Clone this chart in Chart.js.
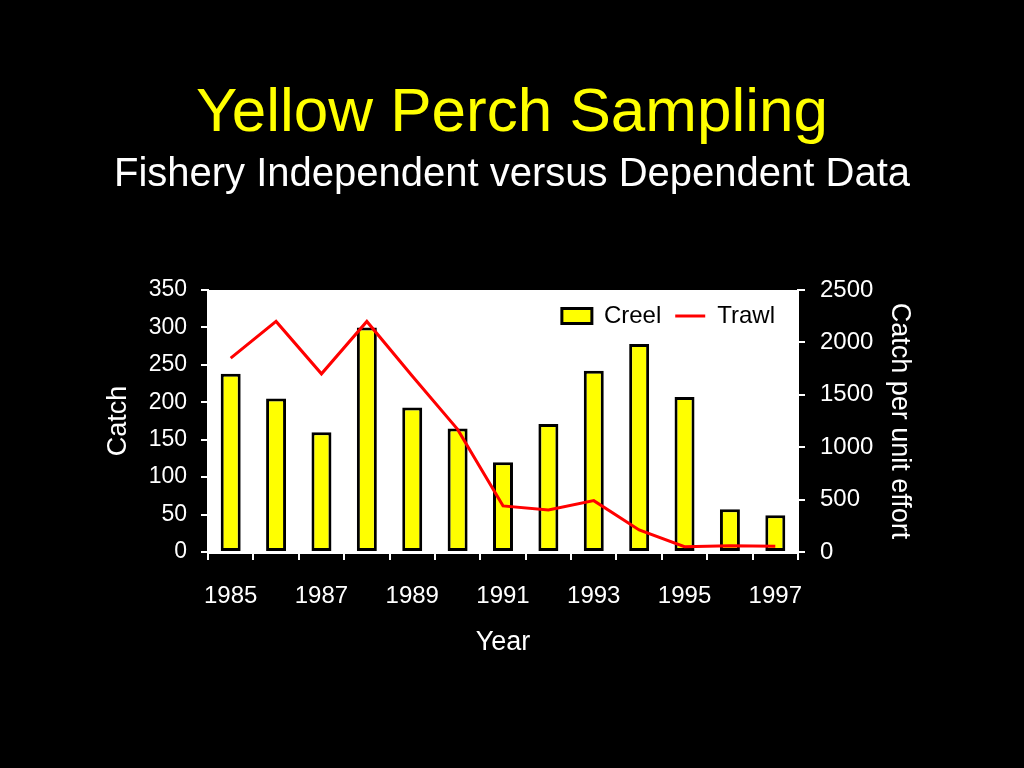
<!DOCTYPE html>
<html>
<head>
<meta charset="utf-8">
<title>Yellow Perch Sampling</title>
<script src="https://cdn.jsdelivr.net/npm/chart.js@4.4.0/dist/chart.umd.min.js"></script>
<style>
  html, body { margin: 0; padding: 0; background: #000; }
  canvas { display: block; }
</style>
</head>
<body>
<canvas id="myChart" width="1024" height="768"></canvas>
<script>
// chart data
var years = ['1985', '1986', '1987', '1988', '1989', '1990', '1991', '1992', '1993', '1994', '1995', '1996', '1997'];
var creelCatch = [238, 205, 160, 300, 193, 165, 120, 171, 242, 278, 207, 57, 49];
var trawlCpue = [1850, 2200, 1700, 2200, 1680, 1170, 440, 400, 490, 210, 50, 60, 55];
var catchTicks = [0, 350, 50];   // min, max, step
var cpueTicks = [0, 2500, 500];

var font = '"Liberation Sans", Arial, Helvetica, sans-serif';

// black page, white plot area
var backgroundPlugin = {
  id: 'bg',
  beforeDraw: function (chart) {
    var ctx = chart.ctx;
    var a = chart.chartArea;
    ctx.save();
    ctx.fillStyle = '#000';
    ctx.fillRect(0, 0, chart.width, chart.height);
    ctx.fillStyle = '#fff';
    ctx.fillRect(a.left, a.top, a.right - a.left, a.bottom - a.top);
    ctx.restore();
  },
  afterLayout: function (chart) {
    // move the legend inside the plot, top right
    var lg = chart.legend, a = chart.chartArea;
    var h = lg.bottom - lg.top;
    lg.left = a.left;
    lg.right = a.right - 9;
    lg.top = a.top;
    lg.bottom = a.top + h;
  }
};

function fixWidth(w) {
  return function (scale) { scale.width = w; };
}

var ctx = document.getElementById('myChart').getContext('2d');
var myChart = new Chart(ctx, {
  type: 'bar',
  data: {
    labels: years,
    datasets: [
      {
        label: 'Creel',
        data: creelCatch,
        backgroundColor: '#ffff00',
        borderColor: '#000',
        borderWidth: 3,
        borderSkipped: false,
        pointStyle: 'rect',
        categoryPercentage: 1,
        barPercentage: 0.44,
        yAxisID: 'y',
        order: 1
      },
      {
        type: 'line',
        label: 'Trawl',
        data: trawlCpue,
        borderColor: '#ff0000',
        backgroundColor: '#ff0000',
        borderWidth: 3,
        pointRadius: 0,
        tension: 0,
        pointStyle: 'line',
        yAxisID: 'y1',
        order: 0
      }
    ]
  },
  options: {
    responsive: false,
    animation: false,
    layout: { padding: 0 },
    plugins: {
      tooltip: { enabled: false },
      title: {
        display: true,
        text: 'Yellow Perch Sampling',
        color: '#ffff00',
        font: { family: font, size: 62, weight: 'normal', lineHeight: 1.2 },
        padding: { top: 77, bottom: 0 }
      },
      subtitle: {
        display: true,
        text: 'Fishery Independent versus Dependent Data',
        color: '#fff',
        font: { family: font, size: 40, weight: 'normal', lineHeight: 1.2 },
        padding: { top: 0, bottom: 42.6 }
      },
      legend: {
        position: 'top',
        align: 'end',
        labels: {
          color: '#000',
          font: { family: font, size: 24 },
          usePointStyle: true,
          pointStyleWidth: 30,
          boxHeight: 15,
          padding: 14,
          generateLabels: function (chart) {
            var items = Chart.defaults.plugins.legend.labels.generateLabels(chart);
            items.forEach(function (it) {
              it.pointStyle = it.datasetIndex === 0 ? 'rect' : 'line';
              it.lineWidth = 3;
            });
            return items.sort(function (a, b) { return a.datasetIndex - b.datasetIndex; });
          }
        }
      }
    },
    scales: {
      x: {
        afterFit: function (scale) { scale.height = 768 - 552; },
        offset: true,
        grid: {
          offset: true,
          drawOnChartArea: false,
          color: '#fff',
          lineWidth: 2,
          tickLength: 8
        },
        border: { color: '#fff', width: 3 },
        ticks: {
          color: '#fff',
          autoSkip: false,
          maxRotation: 0,
          padding: 22,
          font: { family: font, size: 24 },
          callback: function (val, i) { return i % 2 === 0 ? this.getLabelForValue(val) : ''; }
        },
        title: {
          display: true,
          text: 'Year',
          color: '#fff',
          font: { family: font, size: 27 },
          padding: { top: 0, bottom: 109 }
        }
      },
      y: {
        position: 'left',
        afterFit: fixWidth(208),
        min: catchTicks[0],
        max: catchTicks[1],
        grid: { drawOnChartArea: false, color: '#fff', lineWidth: 2, tickLength: 7 },
        border: { color: '#fff', width: 2 },
        ticks: {
          stepSize: catchTicks[2],
          color: '#fff',
          padding: 14,
          font: { family: font, size: 23 }
        },
        title: {
          display: true,
          text: 'Catch',
          color: '#fff',
          font: { family: font, size: 27 },
          padding: { top: 102, bottom: 0 }
        }
      },
      y1: {
        position: 'right',
        afterFit: fixWidth(1024 - 798),
        min: cpueTicks[0],
        max: cpueTicks[1],
        grid: { drawOnChartArea: false, color: '#fff', lineWidth: 2, tickLength: 7 },
        border: { color: '#fff', width: 2 },
        ticks: {
          stepSize: cpueTicks[2],
          color: '#fff',
          padding: 15,
          font: { family: font, size: 24 },
          callback: function (val) { return String(val); }
        },
        title: {
          display: true,
          text: 'Catch per unit effort',
          color: '#fff',
          font: { family: font, size: 27 },
          padding: { top: 108, bottom: 0 }
        }
      }
    }
  },
  plugins: [backgroundPlugin]
});
</script>
</body>
</html>
